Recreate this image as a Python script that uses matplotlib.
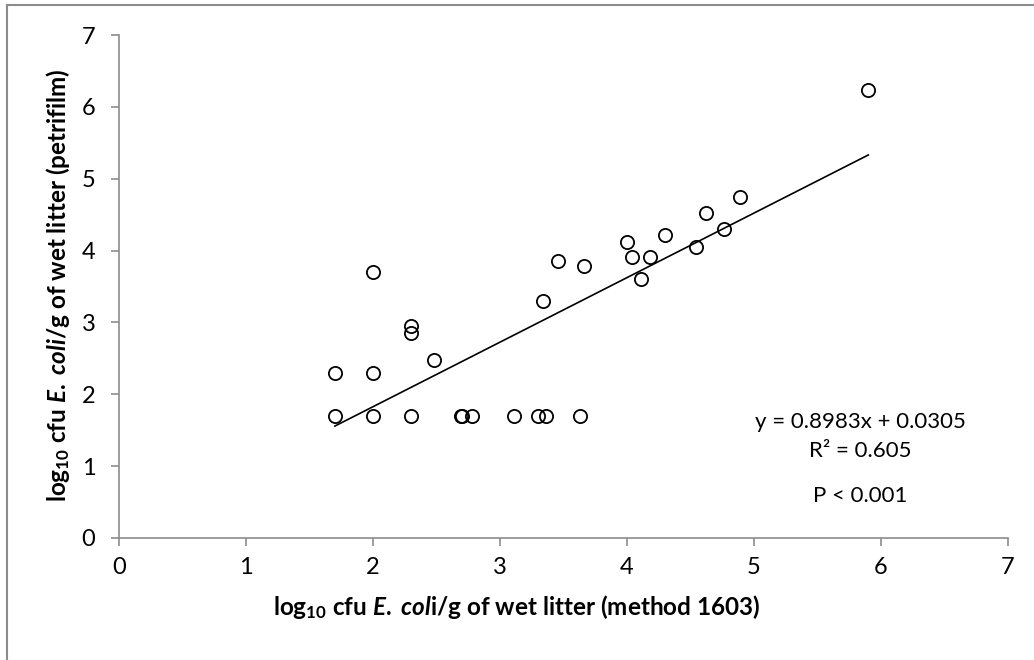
import matplotlib
matplotlib.use("Agg")
import matplotlib.pyplot as plt
from matplotlib import font_manager as fm
import numpy as np

# Data
method1603 = [1.70, 1.70, 2.00, 2.00, 2.00, 2.30, 2.30, 2.30, 2.48, 2.69,
              2.70, 2.78, 3.11, 3.30, 3.36, 3.63, 3.34, 3.46, 3.66, 4.00,
              4.04, 4.18, 4.11, 4.30, 4.54, 4.76, 4.62, 4.89, 5.90]
petrifilm = [2.30, 1.70, 3.70, 2.30, 1.70, 2.95, 2.85, 1.70, 2.48, 1.70,
             1.70, 1.70, 1.70, 1.70, 1.70, 1.70, 3.30, 3.85, 3.78, 4.12,
             3.91, 3.91, 3.60, 4.21, 4.05, 4.30, 4.52, 4.74, 6.23]
slope = 0.8983
intercept = 0.0305
ticks = [0, 1, 2, 3, 4, 5, 6, 7]
eq_text = "y = 0.8983x + 0.0305"
r2_text = "R² = 0.605"
p_text = "P < 0.001"

# pick a Calibri-like family that has a real bold face
family = 'DejaVu Sans'
for cand in ['Lato', 'Open Sans', 'Noto Sans', 'Liberation Sans']:
    try:
        path = fm.findfont(fm.FontProperties(family=cand, weight='bold'), fallback_to_default=False)
        if 'bold' in path.lower() or 'variable' in path.lower() or '[' in path:
            family = cand
            break
    except Exception:
        pass

plt.rcParams['font.family'] = [family, 'DejaVu Sans']
plt.rcParams['mathtext.fontset'] = 'custom'
plt.rcParams['mathtext.it'] = f'{family}:italic:bold'
plt.rcParams['mathtext.rm'] = f'{family}:bold'
plt.rcParams['mathtext.default'] = 'regular'

W, H = 1034, 660
X0, X1, Y0, Y1 = 119, 1008, 538, 35   # pixel extents of the plot area

fig = plt.figure(figsize=(W/100, H/100), dpi=100)
ax = fig.add_axes([X0/W, 1 - Y0/H, (X1-X0)/W, (Y0-Y1)/H])

# frame around chart area (left and top visible)
fig.add_artist(plt.Line2D([6.5/W, 6.5/W], [0, 1 - 5/H], color='#8c8c8c', lw=1.5))
fig.add_artist(plt.Line2D([6.5/W, 1], [1 - 5/H, 1 - 5/H], color='#8c8c8c', lw=1.5))

ax.plot(method1603, petrifilm, linestyle='none', marker='o', markersize=9.5,
        markerfacecolor='none', markeredgecolor='black', markeredgewidth=1.3,
        zorder=3)
xs = np.array([min(method1603), max(method1603)])
ax.plot(xs, slope * xs + intercept, color='black', lw=1.2, zorder=2)

ax.set_xlim(0, 7)
ax.set_ylim(0, 7)
ax.set_xticks(ticks)
ax.set_yticks(ticks)
for s in ['top', 'right']:
    ax.spines[s].set_visible(False)
for s in ['left', 'bottom']:
    ax.spines[s].set_color('#8c8c8c')
    ax.spines[s].set_linewidth(1.2)
ax.tick_params(axis='both', direction='out', length=6, width=1.2, color='#8c8c8c',
               labelsize=17)
ax.tick_params(axis='x', pad=8)
ax.tick_params(axis='y', pad=11)

ax.set_xlabel(r'log$_{10}$ cfu $\mathit{E.}$ $\mathit{col}$i/g of wet litter (method 1603)',
              fontsize=17.5, fontweight='bold')
ax.set_ylabel(r'log$_{10}$ cfu $\mathit{E.}$ $\mathit{coli}$/g of wet litter (petrifilm)',
              fontsize=17.5, fontweight='bold')
ax.xaxis.set_label_coords((517 - X0) / (X1 - X0), (Y0 - 607) / (Y0 - Y1))
ax.xaxis.label.set_va('center')
ax.yaxis.set_label_coords((58 - X0) / (X1 - X0), (Y0 - 285) / (Y0 - Y1))
ax.yaxis.label.set_va('center')

def px(x, y):
    return (x - X0) / (X1 - X0), (Y0 - y) / (Y0 - Y1)

cx = 860
ax.text(*px(cx, 428), eq_text, ha='center', va='baseline', fontsize=16, transform=ax.transAxes)
ax.text(*px(cx, 457), r2_text, ha='center', va='baseline', fontsize=16, transform=ax.transAxes)
ax.text(*px(cx, 502), p_text, ha='center', va='baseline', fontsize=16, transform=ax.transAxes)

fig.savefig('out.png', dpi=100)
